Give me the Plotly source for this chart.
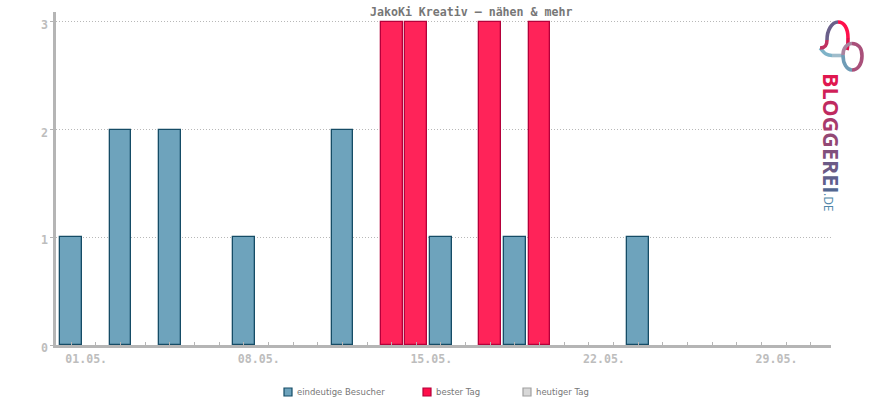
import plotly.graph_objects as go

TITLE = "JakoKi Kreativ – nähen & mehr"
visitor_days = [1, 3, 5, 8, 12, 16, 19, 24]
visitor_values = [1, 2, 2, 1, 2, 1, 1, 1]
best_days = [14, 15, 18, 20]
best_values = [3, 3, 3, 3]
x_tick_values = [1, 8, 15, 22, 29]
x_tick_labels = ["01.05.", "08.05.", "15.05.", "22.05.", "29.05."]
y_tick_values = [0, 1, 2, 3]
legend_names = ["eindeutige Besucher", "bester Tag", "heutiger Tag"]
legend_fill = ["#6ea3bc", "#ff0f4b", "#d8d8d8"]
legend_edge = ["#154c66", "#b5003a", "#a0a0a0"]
legend_left = [284, 423, 523]

L, R, T, B = 56, 831, 12, 345
W, H = 870, 400


def px(x):
    return (x - L) / (R - L)


def py(y):
    return (B - y) / (B - T)


fig = go.Figure()
fig.add_bar(x=visitor_days, y=visitor_values, name=legend_names[0], width=0.88,
            marker=dict(color="#6ea3bc", line=dict(color="#154c66", width=1.3)))
fig.add_bar(x=best_days, y=best_values, name=legend_names[1], width=0.88,
            marker=dict(color="#ff2359", line=dict(color="#b5003a", width=1.3)))

shapes = []
annotations = []

# legend row
for name, fill, edge, left in zip(legend_names, legend_fill, legend_edge, legend_left):
    shapes.append(dict(type="rect", xref="paper", yref="paper", x0=px(left), x1=px(left + 8),
                       y0=py(396), y1=py(388), fillcolor=fill, line=dict(color=edge, width=1.2)))
    annotations.append(dict(text=name, xref="paper", yref="paper", x=px(left + 11), y=py(392),
                            xanchor="left", yanchor="middle", showarrow=False,
                            font=dict(family="DejaVu Sans", size=8.5, color="#777777")))

# logo strokes: colour, start point, then cubic control triples in pixels
logo_strokes = [
    ("#7fb3c8", (820, 48), [(824, 52), (825, 55.5), (832, 55.5)]),
    ("#9fbccb", (832, 55.5), [(836, 55.5), (840, 55.5), (844, 55.5)]),
    ("#c0305f", (820, 48), [(825, 48), (827, 46), (827, 40)]),
    ("#6a5f8a", (827, 40), [(827, 30), (832, 22), (838, 22)]),
    ("#ff0f4b", (838, 22), [(844, 22), (848, 28), (848, 38)]),
    ("#e0104a", (848, 38), [(848, 42), (848, 46), (847, 50)]),
    ("#a9839f", (843, 55), [(843, 48), (847, 43.5), (852, 43.5)]),
    ("#a9507a", (852, 43.5), [(858, 43.5), (862, 48), (862, 56)]),
    ("#a9507a", (862, 56), [(862, 64), (858, 70), (852, 70)]),
    ("#6f9cb6", (852, 70), [(847, 70), (843, 64), (843, 55)]),
]
for colour, start, ctrl in logo_strokes:
    path = f"M {px(start[0]):.5f} {py(start[1]):.5f} C " + " ".join(f"{px(a):.5f} {py(b):.5f}" for a, b in ctrl)
    shapes.append(dict(type="path", xref="paper", yref="paper", path=path,
                       line=dict(color=colour, width=3.6), layer="above"))

logo_letters = list("BLOGGEREI")
logo_colours = ["#e0174f", "#d01f58", "#bf2a60", "#a83a6c", "#934874",
                "#80507c", "#6c5a86", "#5f608c", "#52668f"]
logo_html = "".join(f'<span style="color:{c}">{l}</span>' for l, c in zip(logo_letters, logo_colours))
annotations.append(dict(text=f"<b>{logo_html}</b>", xref="paper", yref="paper", x=px(832), y=py(133),
                        xanchor="center", yanchor="middle", textangle=90, showarrow=False,
                        font=dict(family="Open Sans", size=21.5, color="#934874")))
annotations.append(dict(text=".DE", xref="paper", yref="paper", x=px(829), y=py(202),
                        xanchor="center", yanchor="middle", textangle=90, showarrow=False,
                        font=dict(family="Open Sans", size=12, color="#4f86a8")))

# title
annotations.append(dict(text=f"<b>{TITLE}</b>", xref="paper", yref="paper", x=px(471), y=py(12),
                        xanchor="center", yanchor="middle", showarrow=False,
                        font=dict(family="DejaVu Sans Mono", size=11.6, color="#777777")))

font_ticks = dict(family="DejaVu Sans Mono", size=11.6, color="#bdbdbd", weight="bold")
fig.update_layout(
    width=W, height=H, autosize=False,
    margin=dict(l=L, r=W - R, t=T, b=H - B, pad=0),
    paper_bgcolor="white", plot_bgcolor="white",
    barmode="overlay", bargap=0, showlegend=False,
    shapes=shapes, annotations=annotations,
    xaxis=dict(range=[0.385, 31.82], tickmode="array", tickvals=x_tick_values, ticktext=x_tick_labels,
               ticks="inside", ticklen=3, tickwidth=1, tickcolor="#b5b5b5",
               showgrid=False, zeroline=False, showline=True, linecolor="#b5b5b5", linewidth=2.5,
               tickfont=font_ticks, ticklabelshift=15, ticklabelstandoff=1,
               minor=dict(dtick=1, tick0=1, ticks="inside", ticklen=3, tickwidth=1,
                          tickcolor="#b5b5b5", showgrid=False)),
    yaxis=dict(range=[0, 3.092], tickmode="array", tickvals=y_tick_values,
               ticks="outside", ticklen=3, tickwidth=1, tickcolor="#b5b5b5",
               showgrid=True, griddash="1px,2px", gridcolor="#b8b8b8", gridwidth=1,
               zeroline=False, showline=True, linecolor="#b5b5b5", linewidth=2.5,
               tickfont=font_ticks, ticklabelshift=3),
)

fig.write_html("out.html", config={"displayModeBar": False},
               post_script="document.body.style.margin='0';")
